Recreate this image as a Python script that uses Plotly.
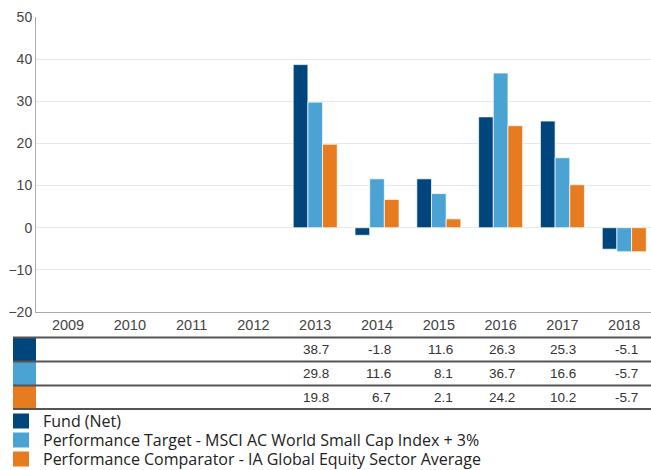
import plotly.graph_objects as go

years = ["2009", "2010", "2011", "2012", "2013", "2014", "2015", "2016", "2017", "2018"]
fund = [None, None, None, None, 38.7, -1.8, 11.6, 26.3, 25.3, -5.1]
target = [None, None, None, None, 29.8, 11.6, 8.1, 36.7, 16.6, -5.7]
comparator = [None, None, None, None, 19.8, 6.7, 2.1, 24.2, 10.2, -5.7]
series_names = ["Fund (Net)",
                "Performance Target - MSCI AC World Small Cap Index + 3%",
                "Performance Comparator - IA Global Equity Sector Average"]
series_values = [fund, target, comparator]
colors = ["#00457c", "#4ba3d4", "#e67b1f"]

W, H = 651, 470
L, R, T, B = 36, 0, 17, 158
PW = W - L - R
PH = H - T - B


def px_x(px):
    return (px - L) / PW


def px_y(py):
    return (H - B - py) / PH


fig = go.Figure()
for name, vals, c in zip(series_names, series_values, colors):
    fig.add_trace(go.Bar(x=years, y=vals, name=name, marker_color=c,
                         marker_line_color="rgba(255,255,255,0.7)", marker_line_width=1,
                         showlegend=False))

shapes = []
annotations = []
row_lines = [337.5, 361.5, 385.5, 409]
for i, (vals, c) in enumerate(zip(series_values, colors)):
    top, bot = row_lines[i], row_lines[i + 1]
    shapes.append(dict(type="rect", xref="paper", yref="paper",
                       x0=px_x(13), x1=px_x(36), y0=px_y(bot), y1=px_y(top),
                       fillcolor=c, line_width=0, layer="above"))
    for j, v in enumerate(vals):
        if v is None:
            continue
        annotations.append(dict(x=j, xref="x", xshift=16, y=px_y((top + bot) / 2), yref="paper",
                                text=f"{v:.1f}", showarrow=False, xanchor="right", yanchor="middle",
                                font=dict(family="Liberation Sans, Arial", size=13.5, color="#333")))
for ly in row_lines:
    shapes.append(dict(type="line", xref="paper", yref="paper",
                       x0=px_x(13), x1=px_x(651), y0=px_y(ly), y1=px_y(ly),
                       line=dict(color="#555", width=2), layer="above"))

leg_y = [421, 440, 459]
for name, c, cy in zip(series_names, colors, leg_y):
    shapes.append(dict(type="rect", xref="paper", yref="paper",
                       x0=px_x(13), x1=px_x(29), y0=px_y(cy + 7.5), y1=px_y(cy - 7.5),
                       fillcolor=c, line_width=0))
    annotations.append(dict(x=px_x(41), xref="paper", y=px_y(cy), yref="paper",
                            text=name, showarrow=False, xanchor="left", yanchor="middle",
                            font=dict(family="Open Sans", size=16, color="#222")))

fig.update_layout(
    width=W, height=H,
    margin=dict(l=L, r=R, t=T, b=B),
    paper_bgcolor="white", plot_bgcolor="white",
    barmode="group", bargap=0.288, bargroupgap=0,
    shapes=shapes, annotations=annotations,
    showlegend=False,
    xaxis=dict(range=[-0.518, 9.433], showline=True, linecolor="#aaa", linewidth=1, ticks="",
               tickfont=dict(family="Liberation Sans, Arial", size=14.5, color="#444"),
               showgrid=False),
    yaxis=dict(range=[-20, 50], dtick=10, showline=True, linecolor="#aaa", linewidth=1,
               gridcolor="#e8e8e8", zeroline=True, zerolinecolor="#e8e8e8", zerolinewidth=1,
               tickfont=dict(family="Liberation Sans, Arial", size=14, color="#444"),
               ticks="", ticklen=0),
)

fig.write_html("out.html", config={"displayModeBar": False},
               post_script="document.body.style.margin='0';document.body.style.overflow='hidden';")
